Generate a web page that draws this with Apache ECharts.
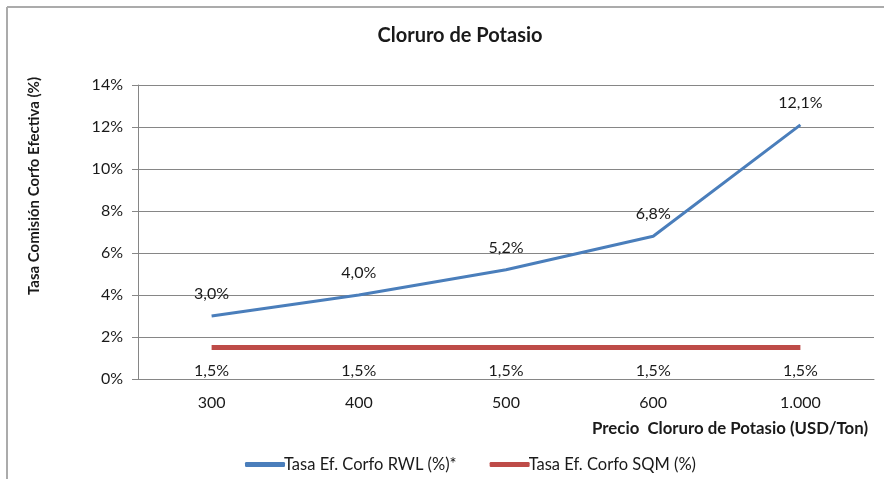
<!DOCTYPE html>
<html>
<head>
<meta charset="utf-8">
<script src="https://cdn.jsdelivr.net/npm/echarts@6/dist/echarts.min.js"></script>
<style>
html,body{margin:0;padding:0;background:#fff;}
#c{width:884px;height:479px;}
</style>
</head>
<body>
<div id="c"></div>
<script>
const categories = ['300', '400', '500', '600', '1.000'];
const rwlValues = [3.0, 4.0, 5.2, 6.8, 12.1];
const sqmValues = [1.5, 1.5, 1.5, 1.5, 1.5];
const seriesNames = ['Tasa Ef. Corfo RWL (%)*', 'Tasa Ef. Corfo SQM (%)'];
const yTicks = { min: 0, max: 14, interval: 2 };

const FONT = 'Lato, "Open Sans", sans-serif';
const TXT = '#1a1a1a';
const fmt = v => v.toFixed(1).replace('.', ',') + '%';

const chart = echarts.init(document.getElementById('c'));
chart.setOption({
  animation: false,
  backgroundColor: '#fff',
  textStyle: { fontFamily: FONT },
  title: {
    text: 'Cloruro de Potasio',
    left: 455, top: 21, textAlign: 'center',
    textStyle: { fontFamily: FONT, fontSize: 20, fontWeight: 'bold', color: TXT }
  },
  graphic: [
    { type: 'line', shape: { x1: 7, y1: 7, x2: 884, y2: 7 }, style: { stroke: '#ababab', lineWidth: 2 } },
    { type: 'line', shape: { x1: 7, y1: 7, x2: 7, y2: 479 }, style: { stroke: '#ababab', lineWidth: 2 } },
    {
      type: 'text', x: 34, y: 186, rotation: Math.PI / 2,
      style: {
        text: 'Tasa Comisión Corfo Efectiva (%)', fill: TXT,
        font: 'bold 15px ' + FONT, align: 'center', verticalAlign: 'middle'
      }
    }
  ],
  legend: {
    left: 240, top: 451,
    itemWidth: 40, itemHeight: 5, itemGap: 33, icon: 'roundRect',
    textStyle: { fontFamily: FONT, fontSize: 16.5, color: TXT, padding: [0, 0, 0, -6] },
    data: seriesNames
  },
  grid: { left: 138, right: 10, top: 85, bottom: 100, containLabel: false },
  xAxis: {
    type: 'category', data: categories, boundaryGap: true,
    name: 'Precio  Cloruro de Potasio (USD/Ton)', nameLocation: 'end',
    nameGap: 0,
    nameTextStyle: { fontFamily: FONT, fontSize: 16.8, fontWeight: 'bold', color: TXT,
      align: 'right', verticalAlign: 'top', padding: [41, 6, 0, 0] },
    axisLine: { lineStyle: { color: '#868686', width: 1 } },
    axisTick: { length: 6, lineStyle: { color: '#868686' } },
    axisLabel: { fontFamily: FONT, fontSize: 16, color: TXT, margin: 16 }
  },
  yAxis: {
    type: 'value', min: yTicks.min, max: yTicks.max, interval: yTicks.interval,
    axisLine: { show: true, lineStyle: { color: '#868686', width: 1 } },
    axisTick: { show: true, length: 6, lineStyle: { color: '#868686' } },
    splitLine: { lineStyle: { color: '#868686', width: 1 } },
    axisLabel: { fontFamily: FONT, fontSize: 16, color: TXT, margin: 15, formatter: '{value}%' }
  },
  series: [
    {
      name: seriesNames[0], type: 'line', data: rwlValues,
      symbol: 'circle', symbolSize: 0.1, showSymbol: true, color: '#4a7ebb',
      lineStyle: { width: 3, color: '#4a7ebb' },
      label: { show: true, position: 'top', distance: 14, formatter: p => fmt(p.value),
        fontFamily: FONT, fontSize: 16, color: TXT }
    },
    {
      name: seriesNames[1], type: 'line', data: sqmValues,
      symbol: 'circle', symbolSize: 0.1, showSymbol: true, color: '#be4b48',
      lineStyle: { width: 5, color: '#be4b48' },
      label: { show: true, position: 'bottom', distance: 15, formatter: p => fmt(p.value),
        fontFamily: FONT, fontSize: 16, color: TXT }
    }
  ]
});
</script>
</body>
</html>
